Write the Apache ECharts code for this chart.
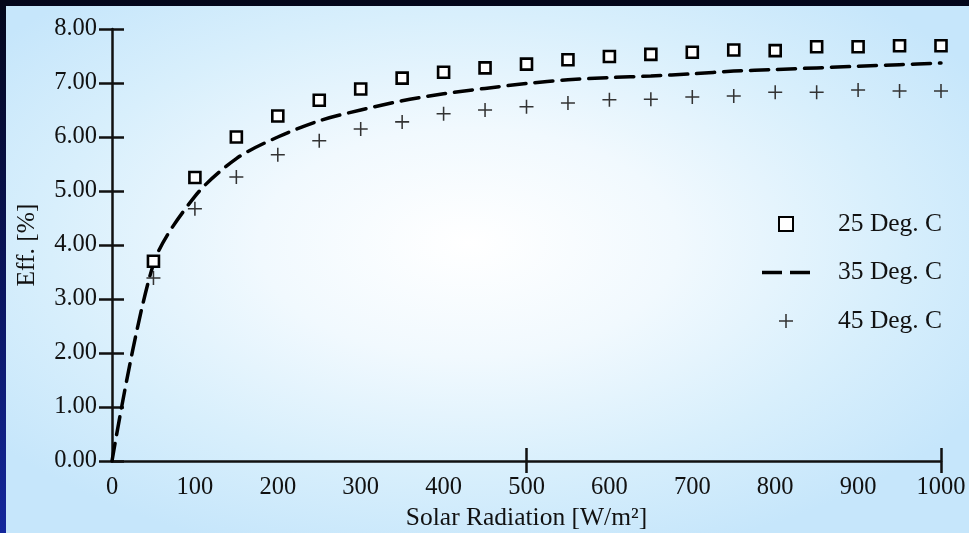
<!DOCTYPE html>
<html>
<head>
<meta charset="utf-8">
<script src="https://cdn.jsdelivr.net/npm/echarts@6/dist/echarts.min.js"></script>
<style>
    html, body { margin: 0; padding: 0; }
    body {
        width: 969px; height: 533px; overflow: hidden; position: relative;
        background: linear-gradient(to bottom, #03061a 0%, #0a1560 55%, #13279c 100%);
    }
    #chart {
        position: absolute; left: 6px; top: 6px; width: 963px; height: 527px;
        background: radial-gradient(ellipse 62% 62% at 48% 45%, #ffffff 0%, #f1f9fe 35%, #d8effc 70%, #c6e6fb 100%);
    }
</style>
</head>
<body>
<div id="chart"></div>
<script>
// solar radiation [W/m2] for the measured points
const radiation = [50, 100, 150, 200, 250, 300, 350, 400, 450, 500, 550, 600, 650, 700, 750, 800, 850, 900, 950, 1000]
// efficiency [%] at 25 deg C (squares)
const eff25 = [3.70, 5.25, 6.00, 6.39, 6.68, 6.89, 7.09, 7.20, 7.28, 7.35, 7.43, 7.49, 7.53, 7.57, 7.61, 7.60, 7.67, 7.67, 7.69, 7.69]
// efficiency [%] at 45 deg C (plus signs)
const eff45 = [3.39, 4.67, 5.26, 5.67, 5.93, 6.15, 6.28, 6.43, 6.50, 6.56, 6.63, 6.69, 6.70, 6.74, 6.76, 6.83, 6.83, 6.87, 6.85, 6.85]
// efficiency [%] at 35 deg C (dashed curve)
const radiation35 = [0, 50, 100, 150, 200, 250, 300, 350, 400, 450, 500, 550, 600, 650, 700, 750, 800, 850, 900, 950, 1000]
const eff35 = [0, 3.65, 4.90, 5.60, 6.00, 6.30, 6.50, 6.67, 6.80, 6.90, 6.99, 7.06, 7.10, 7.13, 7.17, 7.22, 7.25, 7.28, 7.31, 7.34, 7.37]
const xMajorTicks = [500, 1000]

const FONT = "'Liberation Serif', 'Times New Roman', serif"
const INK = '#111111'

const chart = echarts.init(document.getElementById('chart'), null, { renderer: 'canvas' })

const squarePath = 'path://M0,0H10V10H0Z'
const plusPath = 'path://M4.45,0H5.55V4.45H10V5.55H5.55V10H4.45V5.55H0V4.45H4.45Z'
const dashPath = 'path://M0,0H20V3.5H0Z M28,0H48V3.5H28Z'

chart.setOption({
    backgroundColor: 'transparent',
    animation: false,
    textStyle: { fontFamily: FONT, color: INK },
    grid: { left: 106, top: 23, right: 28, bottom: 72, outerBoundsMode: 'none', containLabel: false },
    legend: {
        orient: 'vertical',
        left: 751,
        top: 200,
        itemWidth: 48,
        itemHeight: 14,
        itemGap: 22.5,
        textStyle: { fontFamily: FONT, fontSize: 25.5, color: INK, lineHeight: 24, padding: [0, 0, 0, 23] },
        data: [
            { name: '25 Deg. C' },
            { name: '35 Deg. C', icon: dashPath, itemStyle: { color: '#000000', borderWidth: 0 } },
            { name: '45 Deg. C' }
        ]
    },
    xAxis: [
        {
            type: 'value',
            min: 0, max: 1000, interval: 100,
            name: 'Solar Radiation [W/m²]',
            nameLocation: 'middle',
            nameGap: 41,
            nameTextStyle: { fontFamily: FONT, fontSize: 25.5, color: INK },
            axisLine: { show: true, onZero: false, lineStyle: { color: INK, width: 2.5 } },
            axisTick: { show: true, length: 12, customValues: xMajorTicks, lineStyle: { color: INK, width: 2.5 } },
            axisLabel: { fontFamily: FONT, fontSize: 24.5, color: INK, margin: 14, formatter: v => String(v) },
            splitLine: { show: false }
        },
        {
            type: 'value',
            position: 'bottom',
            min: 0, max: 1000, interval: 100,
            axisLine: { show: false },
            axisTick: { show: true, inside: true, length: 13, customValues: xMajorTicks, lineStyle: { color: INK, width: 2.5 } },
            axisLabel: { show: false },
            splitLine: { show: false }
        }
    ],
    yAxis: [
        {
            type: 'value',
            min: 0, max: 8, interval: 1,
            name: 'Eff. [%]',
            nameLocation: 'middle',
            nameGap: 72,
            nameTextStyle: { fontFamily: FONT, fontSize: 25.5, color: INK },
            axisLine: { show: true, onZero: false, lineStyle: { color: INK, width: 2.5 } },
            axisTick: { show: true, length: 13, lineStyle: { color: INK, width: 2.5 } },
            axisLabel: {
                fontFamily: FONT, fontSize: 24.5, color: INK, margin: 15,
                formatter: v => v.toFixed(2)
            },
            splitLine: { show: false }
        },
        {
            type: 'value',
            position: 'left',
            min: 0, max: 8, interval: 1,
            axisLine: { show: false },
            axisTick: { show: true, inside: true, length: 12, lineStyle: { color: INK, width: 2.5 } },
            axisLabel: { show: false },
            splitLine: { show: false }
        }
    ],
    series: [
        {
            name: '35 Deg. C',
            type: 'line',
            xAxisIndex: 0,
            yAxisIndex: 0,
            data: radiation35.map((x, i) => [x, eff35[i]]),
            smooth: 0.3,
            symbol: 'none',
            lineStyle: { color: '#000000', width: 3.5, type: [18, 9], cap: 'round' },
            itemStyle: { color: '#000000' },
            z: 2
        },
        {
            name: '25 Deg. C',
            type: 'scatter',
            xAxisIndex: 0,
            yAxisIndex: 0,
            data: radiation.map((x, i) => [x, eff25[i]]),
            symbol: squarePath,
            symbolSize: 11,
            itemStyle: { color: '#ffffff', borderColor: '#000000', borderWidth: 2.6, opacity: 1 },
            z: 3
        },
        {
            name: '45 Deg. C',
            type: 'scatter',
            xAxisIndex: 0,
            yAxisIndex: 0,
            data: radiation.map((x, i) => [x, eff45[i]]),
            symbol: plusPath,
            symbolSize: 14,
            itemStyle: { color: '#333333', opacity: 1 },
            z: 3
        }
    ]
})
</script>
</body>
</html>
